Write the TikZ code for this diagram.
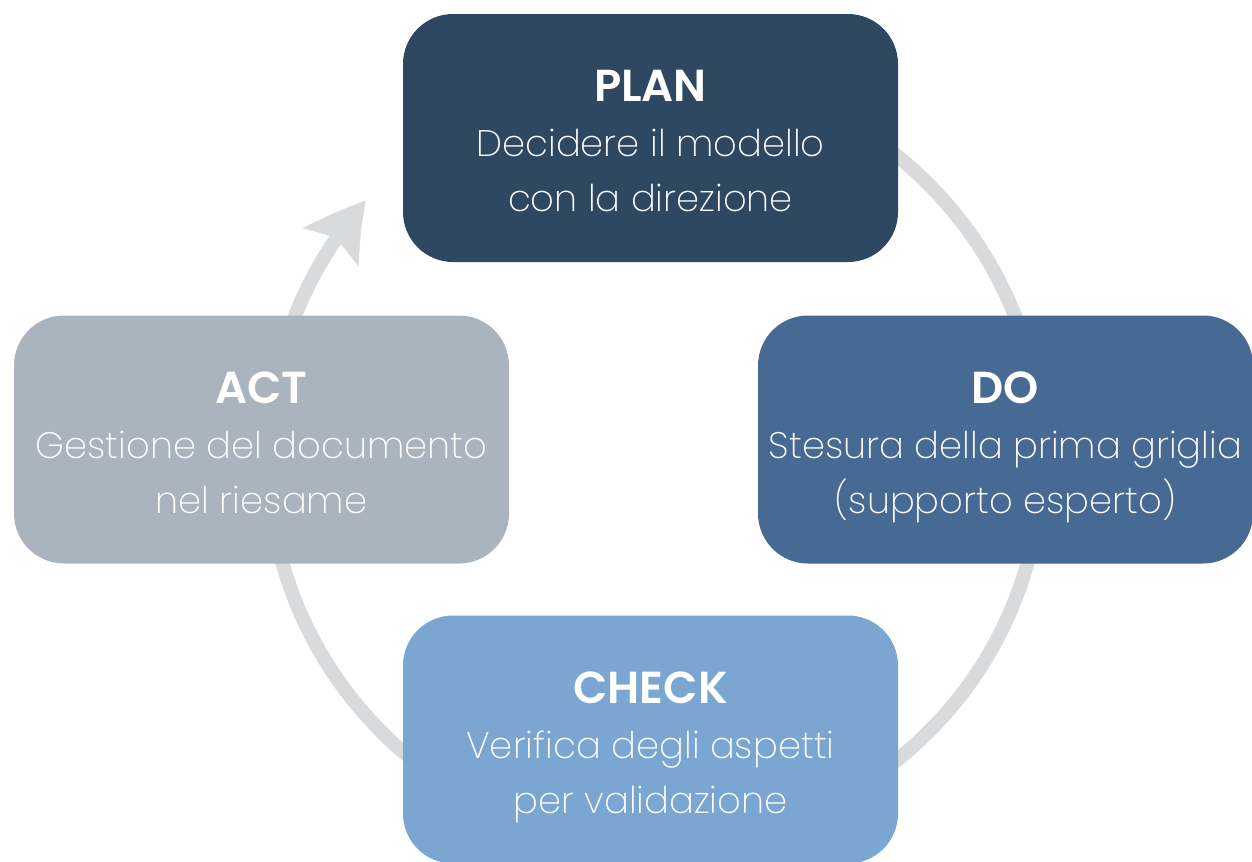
\documentclass[tikz,border=0pt]{standalone}
\usepackage{fontspec}
\setmainfont{Poppins}[UprightFont=* ExtraLight, BoldFont=* SemiBold]
\usepackage{tikz}
\usetikzlibrary{positioning}
\usetikzlibrary{calc}
\usetikzlibrary{arrows.meta,bending}
\definecolor{planblue}{HTML}{2E4862}
\definecolor{doblue}{HTML}{466A94}
\definecolor{checkblue}{HTML}{7BA6D2}
\definecolor{actgray}{HTML}{AAB4BF}
\definecolor{ringgray}{HTML}{D9DADC}
\newcommand{\Phase}[1]{{\fontsize{25.5}{31.3}\selectfont\textbf{#1}}}

\begin{document}
\begin{tikzpicture}[
  phase/.style={rounded corners=1cm, minimum width=9.9cm, minimum height=4.96cm,
    inner sep=0pt, align=center, text=white, text height=2.94cm, text depth=0pt,
    font=\fontsize{21}{31.3}\selectfont},
  ring/.style={draw=ringgray, line width=0.28cm}]
\newcommand{\Radius}{7.74}
\useasboundingbox (0,0) rectangle (25.04,-17.22);
\coordinate (O) at (13.10,-9.16);

\draw[ring, -{Stealth[length=1.16cm, width=1.3cm, inset=0.2cm, bend]}] ($(O)+(128:\Radius)$) arc[start angle=128, end angle=-221.7, radius=\Radius];% Cycle

\node[phase, fill=planblue] (Plan) at (13.01,-2.76) {\Phase{PLAN}\\Decidere il modello\\con la direzione};
\node[phase, fill=doblue] (Do) at (20.11,-8.79) {\Phase{DO}\\Stesura della prima griglia\\(supporto esperto)};
\node[phase, fill=checkblue] (Check) at (13.01,-14.79) {\Phase{CHECK}\\Verifica degli aspetti\\per validazione};
\node[phase, fill=actgray] (Act) at (5.23,-8.79) {\Phase{ACT}\\Gestione del documento\\nel riesame};
\end{tikzpicture}
\end{document}
